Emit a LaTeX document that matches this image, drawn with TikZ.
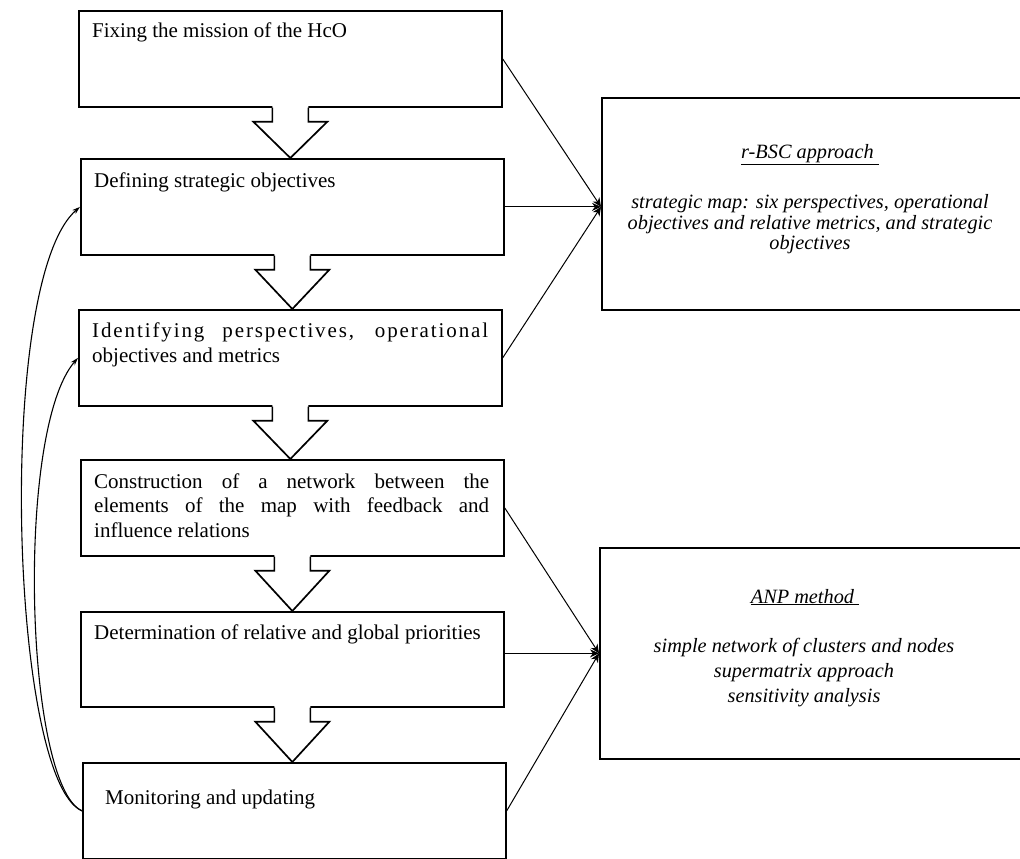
\documentclass[tikz,border=0pt]{standalone}
\usepackage{fontspec}
\setmainfont{Liberation Serif}
\usetikzlibrary{arrows.meta,calc}

% hollow block arrow from the bottom of one step box to the top of the next
\newcommand{\flowdown}[2]{%
  \fill[white] let \p1=(#1.south), \p2=(#2.north) in
    (\x1-18pt,\y1+2pt) -- (\x1-18pt,\y1-14pt) -- (\x1-37pt,\y1-14pt) -- (\x1,\y2)
    -- (\x1+37pt,\y1-14pt) -- (\x1+18pt,\y1-14pt) -- (\x1+18pt,\y1+2pt) -- cycle;
  \draw[flowarrow] let \p1=(#1.south), \p2=(#2.north) in
    (\x1-18pt,\y1) -- (\x1-18pt,\y1-14pt) -- (\x1-37pt,\y1-14pt) -- (\x1,\y2)
    -- (\x1+37pt,\y1-14pt) -- (\x1+18pt,\y1-14pt) -- (\x1+18pt,\y1);
}

\begin{document}
\begin{tikzpicture}[x=1pt,y=-1pt,
  stepbox/.style={draw, line width=1.7pt, minimum width=423pt, minimum height=96pt,
    anchor=north west, inner sep=0pt},
  sidebox/.style={draw, line width=1.7pt, anchor=north west, inner sep=0pt},
  boxtext/.style={anchor=base west, inner sep=0pt, font=\fontsize{21}{24.5}\selectfont},
  sidetext/.style={anchor=base, inner sep=0pt, font=\fontsize{20.3}{24}\selectfont\itshape},
  connector/.style={line width=1pt, -{Stealth[length=9pt,width=8pt]}},
  feedback/.style={line width=1.1pt, -{Stealth[length=8pt,width=5pt]}},
  flowarrow/.style={line width=1.7pt, line join=miter}
]
\useasboundingbox (0,0) rectangle (1020,859);
\clip (0,0) rectangle (1020,859);

% process steps
\node[stepbox] (b1) at (78,10) {};
\node[stepbox] (b2) at (80,158) {};
\node[stepbox] (b3) at (78,309) {};
\node[stepbox] (b4) at (80,459) {};
\node[stepbox, minimum height=95pt] (b5) at (80,611) {};
\node[stepbox] (b6) at (82,762) {};

\node[boxtext] (t1) at (92,38) {Fixing the mission of the HcO};
\node[boxtext] (t2) at (94,187) {Defining strategic objectives};
\node[boxtext] (t3a) at (92,337)
  {\makebox[396pt][s]{\addfontfeature{LetterSpace=9}Identifying perspectives, operational}};
\node[boxtext] (t3b) at (92,362) {objectives and metrics};
\node[boxtext] (t4a) at (94,488) {\makebox[395pt][s]{Construction of a network between the}};
\node[boxtext] (t4b) at (94,512) {\makebox[395pt][s]{elements of the map with feedback and}};
\node[boxtext] (t4c) at (94,537) {influence relations};
\node[boxtext] (t5) at (94,639) {Determination of relative and global priorities};
\node[boxtext] (t6) at (105,804) {Monitoring and updating};

% block arrows between steps
\flowdown{b1}{b2}
\flowdown{b2}{b3}
\flowdown{b3}{b4}
\flowdown{b4}{b5}
\flowdown{b5}{b6}

% methods
\node[sidebox, minimum width=430pt, minimum height=212pt] (rbsc) at (601,97) {};
\node[sidebox, minimum width=430pt, minimum height=211pt] (anp) at (599,547) {};

\node[sidetext] (r1) at (810,158) {\underline{r-BSC approach\ }};
\node[sidetext] (r2) at (810,208) {strategic map: six perspectives, operational};
\node[sidetext] (r3) at (810,229) {objectives and relative metrics, and strategic};
\node[sidetext] (r4) at (810,249) {objectives};

\node[sidetext] (a1) at (805,603) {\underline{ANP method\ }};
\node[sidetext] (a2) at (804,652) {simple network of clusters and nodes};
\node[sidetext] (a3) at (804,677) {supermatrix approach};
\node[sidetext] (a4) at (804,702) {sensitivity analysis};

% links from the steps to the methods
\coordinate (rin) at (rbsc.west |- b2.east);
\coordinate (ain) at (anp.west);
\draw[connector] (b1.east) -- (rin);
\draw[connector] (b2.east) -- (rin);
\draw[connector] (b3.east) -- (rin);
\draw[connector] (b4.east) -- (ain);
\draw[connector] (b5.east |- ain) -- (ain);
\draw[connector] (b6.east) -- (ain);

% feedback loops from monitoring
\draw[feedback] (b6.west) .. controls (10,780) and (-5,280) .. (b2.west);
\draw[feedback] (b6.west) .. controls (25,785) and (15,430) .. (b3.west);
\end{tikzpicture}
\end{document}
